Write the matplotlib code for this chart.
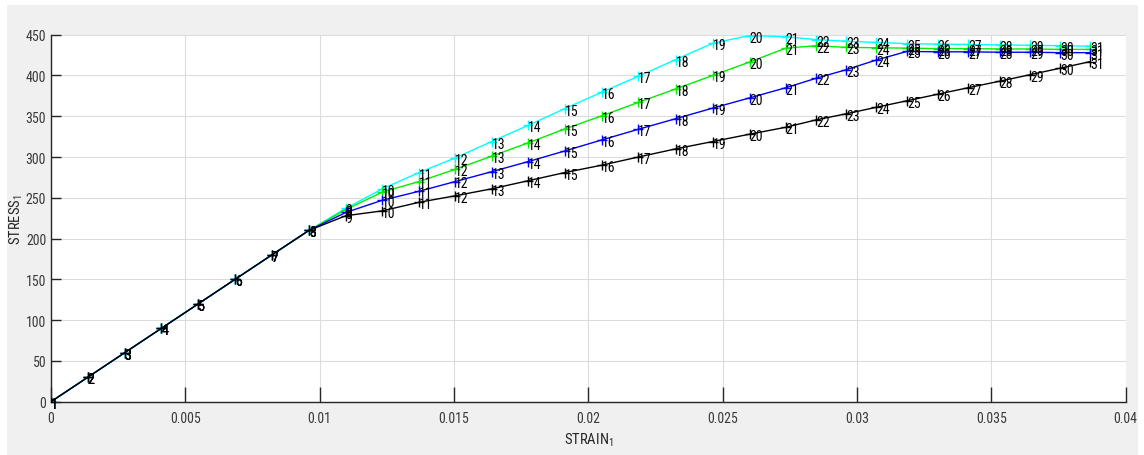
import matplotlib
matplotlib.use("Agg")
import matplotlib.pyplot as plt
from matplotlib.patches import Rectangle
import matplotlib.transforms as mtransforms

# ---------------- data ----------------
strain = [0, 0.00137, 0.00274, 0.00411, 0.00548, 0.00685, 0.00822, 0.0096,
          0.01097, 0.01233, 0.0137, 0.01505, 0.0164, 0.01777, 0.01913, 0.0205,
          0.02186, 0.02325, 0.02463, 0.026, 0.02735, 0.02847, 0.02959, 0.03072,
          0.03186, 0.033, 0.03414, 0.03531, 0.03645, 0.03757, 0.03868]

elastic = [0, 30, 60, 90, 120, 150, 180, 210]

stress_black = elastic + [228, 234, 244.5, 252.5, 261, 271, 281, 290, 300, 310,
                          319, 328, 336.5, 345.5, 353, 361, 369, 377, 385, 393,
                          401, 409, 417]
stress_blue = elastic + [232, 247, 258, 270, 282, 294.5, 307.5, 321, 334, 347,
                         360, 372.5, 385, 396.5, 407, 419, 429.5, 429, 429,
                         428.5, 428.5, 428, 428]
stress_green = elastic + [235.5, 257, 270, 285, 301, 317.5, 334.5, 350.5, 367,
                          383.5, 400, 416.5, 433.5, 436.5, 434.5, 434, 433.5,
                          433, 433, 432.5, 432.5, 432, 432]
stress_cyan = elastic + [237, 261, 281, 299, 319, 339, 359.5, 379.5, 399, 419.5,
                         439.5, 449, 447.5, 444, 442, 440.5, 439, 438.5, 438,
                         437.5, 437, 436.5, 436]

point_labels = [str(i) for i in range(1, 32)]

series = [("cyan", stress_cyan), ("#00ee00", stress_green),
          ("blue", stress_blue), ("black", stress_black)]

x_ticks = [0, 0.005, 0.01, 0.015, 0.02, 0.025, 0.03, 0.035, 0.04]
x_ticklabels = ["0", "0.005", "0.01", "0.015", "0.02", "0.025", "0.03", "0.035", "0.04"]
y_ticks = [0, 50, 100, 150, 200, 250, 300, 350, 400, 450]

# ---------------- style ----------------
font_list = ["Liberation Sans Narrow", "Roboto Condensed", "Liberation Sans", "DejaVu Sans"]
plt.rcParams["font.family"] = font_list
plt.rcParams["mathtext.fontset"] = "custom"
plt.rcParams["mathtext.rm"] = "Roboto Condensed"
plt.rcParams["mathtext.it"] = "Roboto Condensed"

W, H = 1144, 456
fig = plt.figure(figsize=(W / 100, H / 100), dpi=100, facecolor="white")
# gray figure panel (behind the axes)
bg = Rectangle((7 / W, 0), (1138 - 7) / W, (H - 6) / H,
               transform=fig.transFigure, facecolor="#f0f0f0",
               edgecolor="none", zorder=-10)
fig.add_artist(bg)

ax = fig.add_axes([51 / W, 53.3 / H, 1074.7 / W, 367 / H])
ax.set_zorder(1)
ax.set_facecolor("white")

for color, vals in series:
    ax.plot(strain, vals, color=color, lw=1.0, marker="+", ms=7, mew=1.0,
            zorder=3)

offset = mtransforms.offset_copy(ax.transData, fig=fig, x=0, y=-2, units="dots")
for color, vals in series:
    for xv, yv, lab in zip(strain, vals, point_labels):
        ax.text(xv, yv, lab, transform=offset, ha="left", va="center",
                fontsize=10, color="black", zorder=4, family=font_list)

ax.set_xlim(0, 0.04)
ax.set_ylim(0, 450)
ax.set_xticks(x_ticks)
ax.set_xticklabels(x_ticklabels)
ax.set_yticks(y_ticks)

ax.grid(True, color="#dcdcdc", lw=0.8, zorder=0)
ax.set_axisbelow(True)

for s in ("top", "right"):
    ax.spines[s].set_visible(False)
for s in ("left", "bottom"):
    ax.spines[s].set_color("#262626")
    ax.spines[s].set_linewidth(1.0)

ax.tick_params(axis="x", direction="in", length=10.8, width=1.0,
               color="#262626", labelcolor="#3a3a3a", labelsize=10, pad=7)
ax.tick_params(axis="y", direction="in", length=7.2, width=1.0,
               color="#262626", labelcolor="#3a3a3a", labelsize=10, pad=3.5)

ax.set_xlabel(r"STRAIN$_1$", fontsize=10.5, color="#262626")
ax.set_ylabel(r"STRESS$_1$", fontsize=10.5, color="#262626")
ax.xaxis.set_label_coords(0.5, (402.7 - 432) / 367)
ax.xaxis.label.set_va("top")
ax.yaxis.set_label_coords((16 - 51) / 1074.7, 0.5)
ax.yaxis.label.set_va("center")

fig.savefig("out.png", dpi=100, facecolor=fig.get_facecolor())
